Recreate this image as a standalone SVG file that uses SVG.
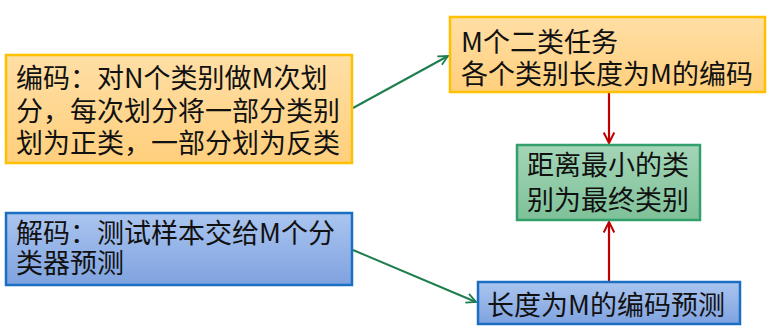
<svg xmlns="http://www.w3.org/2000/svg" width="775" height="335" viewBox="0 0 775 335">
<style>
text{font-family:"Noto Sans CJK SC","Noto Sans",sans-serif;font-size:27px;fill:#111}
.or{fill:url(#gO);stroke:#FFC000;stroke-width:2.5}
.gr{fill:url(#gG);stroke:#33A06C;stroke-width:2.5}
.bl{fill:url(#gB);stroke:#1B6FC2;stroke-width:2.5}
.cg{stroke:#1E7E50;stroke-width:2;fill:none}
.cr{stroke:#C00000;stroke-width:2.2;fill:none}
</style>
<defs>
<linearGradient id="gO" x1="0" y1="0" x2="0" y2="1"><stop offset="0" stop-color="#FFDFA6"/><stop offset="1" stop-color="#FFCF7C"/></linearGradient>
<linearGradient id="gG" x1="0" y1="0" x2="0" y2="1"><stop offset="0" stop-color="#A3D5B7"/><stop offset="1" stop-color="#7FC199"/></linearGradient>
<linearGradient id="gB" x1="0" y1="0" x2="0" y2="1"><stop offset="0" stop-color="#AAC5EF"/><stop offset="1" stop-color="#7FA2DF"/></linearGradient>
<marker id="aG" viewBox="0 0 10 10" refX="9" refY="5" markerWidth="6" markerHeight="6" orient="auto" markerUnits="strokeWidth"><path d="M1,1 L9,5 L1,9" fill="none" stroke="#1E7E50" stroke-width="1.5"/></marker>
<marker id="aR" viewBox="0 0 10 10" refX="9" refY="5" markerWidth="6" markerHeight="6" orient="auto" markerUnits="strokeWidth"><path d="M1,1 L9,5 L1,9" fill="none" stroke="#C00000" stroke-width="1.5"/></marker>
</defs>
<g id="connectors">
<line class="cg" x1="353" y1="108" x2="448" y2="56" marker-end="url(#aG)"/>
<line class="cg" x1="353" y1="250" x2="476" y2="302" marker-end="url(#aG)"/>
<line class="cr" x1="609" y1="93" x2="609" y2="143" marker-end="url(#aR)"/>
<line class="cr" x1="609" y1="281" x2="609" y2="222" marker-end="url(#aR)"/>
</g>
<g id="encode">
<rect class="or" x="6" y="55" width="346" height="108"/>
<text x="16" y="88">编码：对N个类别做M次划<tspan x="16" y="121">分，每次划分将一部分类别</tspan><tspan x="16" y="153">划为正类，一部分划为反类</tspan></text>
</g>
<g id="tasks">
<rect class="or" x="450" y="17" width="315" height="75"/>
<text x="461" y="52">M个二类任务<tspan x="461" y="84">各个类别长度为M的编码</tspan></text>
</g>
<g id="result">
<rect class="gr" x="517" y="145" width="183" height="75"/>
<text x="527" y="175">距离最小的类<tspan x="527" y="210">别为最终类别</tspan></text>
</g>
<g id="decode">
<rect class="bl" x="6" y="213" width="346" height="72"/>
<text x="16" y="243">解码：测试样本交给M个分<tspan x="16" y="273">类器预测</tspan></text>
</g>
<g id="predict">
<rect class="bl" x="478" y="282" width="262" height="42"/>
<text x="487" y="315">长度为M的编码预测</text>
</g>
</svg>
